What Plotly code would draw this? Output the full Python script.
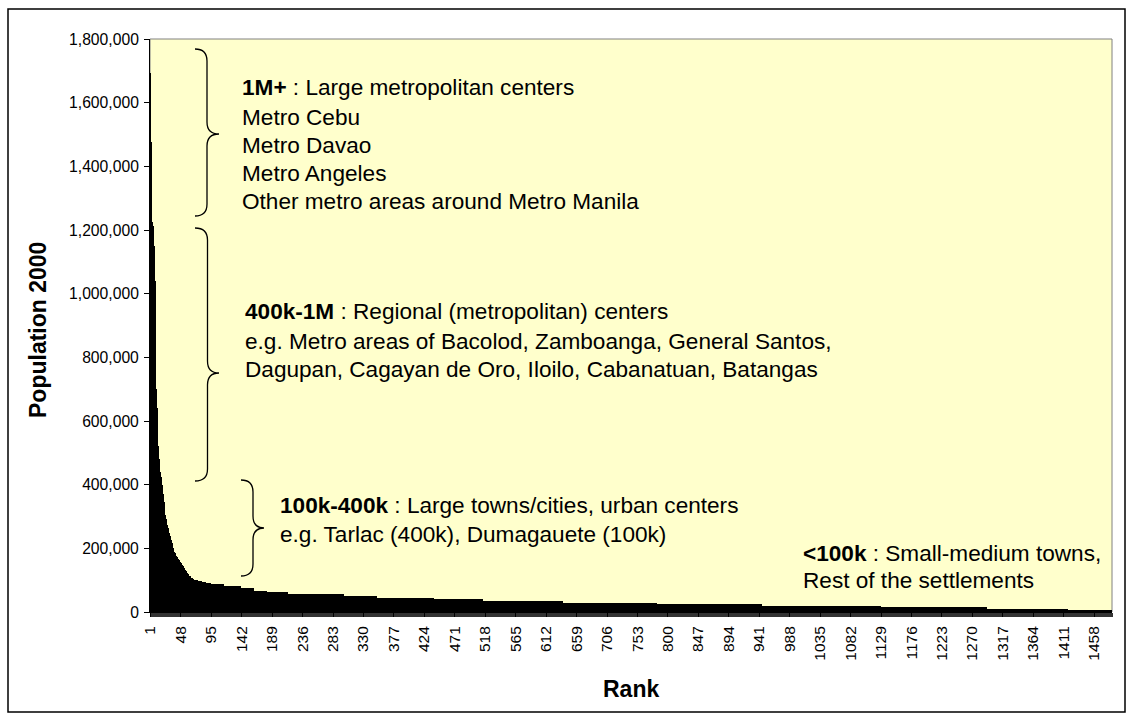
import plotly.graph_objects as go

# ranks 1-85, read one by one off the steep head of the curve
head_values = [1692000, 1476000, 1280000, 1225000, 1212000, 1198000, 1150000, 1040000, 890000, 700000,
               640000, 600000, 520000, 480000, 455000, 440000, 425000, 410000, 400000, 395000,
               370000, 345000, 320000, 305000, 292000, 282000, 273000, 264000, 255000, 248000,
               240000, 232000, 225000, 218000, 210000, 202000, 196000, 190000, 185000, 180000,
               176000, 172000, 169000, 166000, 163000, 160000, 157000, 154000, 151000, 148000,
               145000, 142000, 139000, 136000, 133000, 130000, 126000, 122000, 119000, 116000,
               114000, 112000, 110000, 108000, 106000, 104000, 103000, 102000, 101000, 100000,
               100000, 99000, 99000, 98000, 98000, 97000, 97000, 96000, 96000, 95000,
               95000, 94000, 94000, 93000, 93000]

# long tail: flat plateaus as seen in the picture (level, number of ranks)
tail_levels = [92000, 88000, 82000, 74000, 66000, 62000, 57000, 50000, 45000, 40000,
               34000, 28000, 24000, 19000, 15000, 10000, 5000]
tail_counts = [8, 20, 26, 21, 20, 33, 85, 52, 87, 77,
               122, 146, 162, 183, 164, 126, 68]

tick_ranks = [1, 48, 95, 142, 189, 236, 283, 330, 377, 424, 471, 518, 565, 612, 659, 706,
              753, 800, 847, 894, 941, 988, 1035, 1082, 1129, 1176, 1223, 1270, 1317, 1364,
              1411, 1458]
y_ticks = [0, 200000, 400000, 600000, 800000, 1000000, 1200000, 1400000, 1600000, 1800000]

population = list(head_values)
for level, count in zip(tail_levels, tail_counts):
    population += [level] * count
ranks = list(range(1, len(population) + 1))

FONT = "Liberation Sans, Arial, sans-serif"
W, H = 1129, 720
PL, PR, PT, PB = 150, 1112, 39, 612   # plot area in pixels


def px(x, y):
    """pixel position -> paper coordinates"""
    return (x - PL) / (PR - PL), (PB - y) / (PB - PT)


def brace(x0, x1, x2, yt, ym, yb, r=12):
    pts = [
        ("M", [(x0, yt)]),
        ("Q", [(x1, yt), (x1, yt + r)]),
        ("L", [(x1, ym - r)]),
        ("Q", [(x1, ym), (x2, ym)]),
        ("Q", [(x1, ym), (x1, ym + r)]),
        ("L", [(x1, yb - r)]),
        ("Q", [(x1, yb), (x0, yb)]),
    ]
    out = []
    for cmd, coords in pts:
        s = " ".join("%.5f,%.5f" % px(a, b) for a, b in coords)
        out.append(cmd + " " + s)
    return " ".join(out)


fig = go.Figure()
fig.add_trace(go.Bar(
    x=ranks,
    y=population,
    marker=dict(color="black", line=dict(width=0)),
    hoverinfo="x+y",
))

shapes = []
# plot area frame (grey)
shapes.append(dict(type="rect", xref="paper", yref="paper", x0=0, x1=1, y0=0, y1=1,
                   line=dict(color="#808080", width=1), layer="below"))
# outer chart border
bx0, by0 = px(8, 9)
bx1, by1 = px(1125, 712)
shapes.append(dict(type="rect", xref="paper", yref="paper", x0=bx0, x1=bx1, y0=by1, y1=by0,
                   line=dict(color="black", width=1.5)))
for b in [(195, 207, 219, 49, 134, 216), (195, 207.5, 219, 228, 373, 481),
          (241, 253, 264, 480, 528, 576)]:
    shapes.append(dict(type="path", xref="paper", yref="paper", path=brace(*b),
                       line=dict(color="black", width=1.3)))

text_lines = [
    (240, 88, "<b>1M+</b> : Large metropolitan centers"),
    (240, 117, "Metro Cebu"),
    (240, 145, "Metro Davao"),
    (240, 173, "Metro Angeles"),
    (240, 202, "Other metro areas around Metro Manila"),
    (243, 311, "<b>400k-1M</b> : Regional (metropolitan) centers"),
    (243, 341, "e.g. Metro areas of Bacolod, Zamboanga, General Santos,"),
    (243, 369, "Dagupan, Cagayan de Oro, Iloilo, Cabanatuan, Batangas"),
    (278, 505, "<b>100k-400k</b> : Large towns/cities, urban centers"),
    (278, 534, "e.g. Tarlac (400k), Dumagauete (100k)"),
    (801, 553, "<b>&lt;100k</b> : Small-medium towns,"),
    (801, 580, "Rest of the settlements"),
]
annotations = []
for x, y, t in text_lines:
    ax, ay = px(x, y)
    annotations.append(dict(x=ax, y=ay, xref="paper", yref="paper", text=t, showarrow=False,
                            xanchor="left", yanchor="middle",
                            font=dict(family=FONT, size=22.6, color="black")))

tx, ty = px(38, 330)
annotations.append(dict(x=tx, y=ty, xref="paper", yref="paper", text="<b>Population 2000</b>",
                        showarrow=False, textangle=-90, xanchor="center", yanchor="middle",
                        font=dict(family=FONT, size=23, color="black")))
tx, ty = px(631, 689)
annotations.append(dict(x=tx, y=ty, xref="paper", yref="paper", text="<b>Rank</b>",
                        showarrow=False, xanchor="center", yanchor="middle",
                        font=dict(family=FONT, size=23, color="black")))

fig.update_layout(
    width=W,
    height=H,
    margin=dict(l=PL, r=W - PR, t=PT, b=H - PB, pad=0),
    paper_bgcolor="white",
    plot_bgcolor="#FFFFCC",
    bargap=0,
    showlegend=False,
    font=dict(family=FONT, size=15, color="black"),
    xaxis=dict(
        type="linear",
        range=[0.5, len(population) + 0.5],
        tickmode="array",
        tickvals=tick_ranks,
        ticktext=[str(t) for t in tick_ranks],
        tickangle=-90,
        tickfont=dict(family=FONT, size=15.5, color="black"),
        ticks="outside", ticklen=4, tickwidth=0.6, tickcolor="black",
        ticklabelstandoff=3,
        minor=dict(ticks="outside", dtick=1, tick0=0.5, ticklen=4, tickwidth=0.4,
                   tickcolor="#333333", showgrid=False),
        showline=True, linecolor="black", linewidth=1,
        showgrid=False, zeroline=False, fixedrange=True,
    ),
    yaxis=dict(
        range=[0, 1800000],
        tickmode="array",
        tickvals=y_ticks,
        ticktext=["{:,}".format(v) for v in y_ticks],
        tickfont=dict(family=FONT, size=15.7, color="black"),
        ticks="outside", ticklen=5, tickwidth=1, tickcolor="black",
        ticklabelstandoff=2,
        showline=True, linecolor="black", linewidth=1,
        showgrid=False, zeroline=False, fixedrange=True,
    ),
    shapes=shapes,
    annotations=annotations,
)

fig.write_html("out.html", config={"displayModeBar": False},
               post_script="document.body.style.margin='0';document.body.style.overflow='hidden';")
